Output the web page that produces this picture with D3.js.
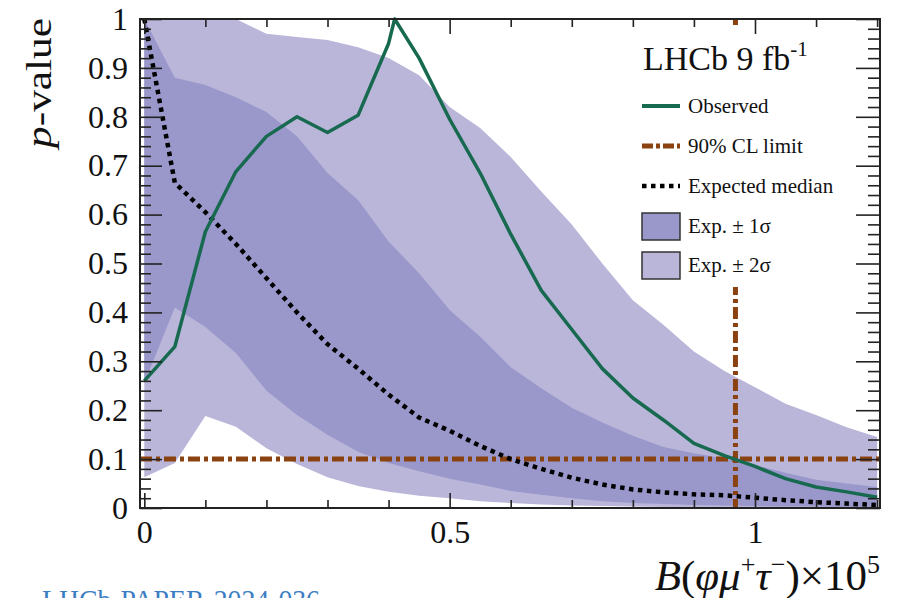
<!DOCTYPE html>
<html>
<head>
<meta charset="utf-8">
<script src="https://cdn.jsdelivr.net/npm/d3@7/dist/d3.min.js"></script>
<style>
  body { margin: 0; background: #fff; }
  svg text { font-family: "Liberation Serif", "DejaVu Serif", serif; fill: #111; }
</style>
</head>
<body>
<svg id="chart" width="902" height="598"></svg>
<script>
// scan points in B x 10^5
const xGrid = [0, 0.05, 0.1, 0.15, 0.2, 0.25, 0.3, 0.35, 0.4, 0.45, 0.5, 0.55, 0.6,
  0.65, 0.7, 0.75, 0.8, 0.85, 0.9, 0.95, 1.0, 1.05, 1.1, 1.15, 1.2];

// expected bands (p-value)
const band2Hi = [1.0, 1.0, 1.0, 1.0, 0.97, 0.963, 0.957, 0.942, 0.92, 0.885, 0.82, 0.777, 0.718,
  0.647, 0.58, 0.5, 0.425, 0.375, 0.32, 0.28, 0.247, 0.213, 0.19, 0.165, 0.145];
const band1Hi = [1.0, 0.88, 0.865, 0.84, 0.81, 0.76, 0.685, 0.63, 0.545, 0.48, 0.405, 0.35, 0.288,
  0.245, 0.205, 0.175, 0.148, 0.125, 0.112, 0.101, 0.088, 0.072, 0.058, 0.05, 0.043];
const band1Lo = [0.255, 0.41, 0.37, 0.317, 0.24, 0.19, 0.15, 0.115, 0.092, 0.075, 0.06, 0.048, 0.035,
  0.027, 0.02, 0.014, 0.01, 0.008, 0.006, 0.005, 0.004, 0.003, 0.003, 0.002, 0.002];
const band2Lo = [0.063, 0.092, 0.188, 0.166, 0.122, 0.09, 0.063, 0.045, 0.033, 0.025, 0.02, 0.014, 0.01,
  0.007, 0.005, 0.004, 0.003, 0.002, 0.002, 0.001, 0.001, 0.001, 0.001, 0.001, 0.001];
const expMedian = [1.0, 0.665, 0.605, 0.54, 0.47, 0.4, 0.335, 0.285, 0.232, 0.185, 0.158, 0.127, 0.1,
  0.08, 0.062, 0.048, 0.038, 0.032, 0.028, 0.026, 0.021, 0.016, 0.012, 0.009, 0.006];

// observed has one extra point near the peak
const obsX = [0, 0.05, 0.1, 0.15, 0.2, 0.25, 0.3, 0.35, 0.4, 0.41, 0.45, 0.5, 0.55, 0.6,
  0.65, 0.7, 0.75, 0.8, 0.85, 0.9, 0.95, 1.0, 1.05, 1.1, 1.15, 1.2];
const obsP = [0.26, 0.33, 0.565, 0.688, 0.76, 0.8, 0.768, 0.803, 0.95, 1.0, 0.92, 0.795, 0.685, 0.56,
  0.445, 0.365, 0.285, 0.225, 0.18, 0.132, 0.107, 0.085, 0.06, 0.043, 0.033, 0.022];

const limitX = 0.968;
const clP = 0.1;

const xMajor = [0, 0.5, 1];
const yMajor = [0, 0.1, 0.2, 0.3, 0.4, 0.5, 0.6, 0.7, 0.8, 0.9, 1];
const legendLabels = ["Observed", "90% CL limit", "Expected median", "Exp. \u00b1 1\u03c3", "Exp. \u00b1 2\u03c3"];

const green = "#17694f", brown = "#8a4210", c1 = "#9a98cb", c2 = "#bab6d9";

const svg = d3.select("#chart");
svg.append("rect").attr("width", 902).attr("height", 598).attr("fill", "#fff");

const x = d3.scaleLinear().domain([-0.00704, 1.2047]).range([140, 880]);
const y = d3.scaleLinear().domain([0, 1]).range([508, 19]);

const bands = xGrid.map((d, i) => ({ x: d, h2: band2Hi[i], l2: band2Lo[i], h1: band1Hi[i], l1: band1Lo[i], m: expMedian[i] }));
const obs = obsX.map((d, i) => ({ x: d, p: obsP[i] }));

// bands
svg.append("path").datum(bands)
  .attr("fill", c2)
  .attr("d", d3.area().x(d => x(d.x)).y0(d => y(d.l2)).y1(d => y(d.h2)));
svg.append("path").datum(bands)
  .attr("fill", c1)
  .attr("d", d3.area().x(d => x(d.x)).y0(d => y(d.l1)).y1(d => y(d.h1)));

// 90% CL lines
const dashDot = "12,4,4,4";
svg.append("line")
  .attr("x1", x.range()[0]).attr("x2", x.range()[1])
  .attr("y1", y(clP)).attr("y2", y(clP))
  .attr("stroke", brown).attr("stroke-width", 5).attr("stroke-dasharray", dashDot);
svg.append("line")
  .attr("x1", x(limitX)).attr("x2", x(limitX))
  .attr("y1", y.range()[1]).attr("y2", y.range()[0])
  .attr("stroke", brown).attr("stroke-width", 5).attr("stroke-dasharray", dashDot);

// expected median
svg.append("path").datum(bands)
  .attr("fill", "none").attr("stroke", "#000").attr("stroke-width", 4.5)
  .attr("stroke-dasharray", "4.5,4.5")
  .attr("d", d3.line().x(d => x(d.x)).y(d => y(d.m)));

// observed
svg.append("path").datum(obs)
  .attr("fill", "none").attr("stroke", green).attr("stroke-width", 3.5)
  .attr("stroke-linejoin", "round")
  .attr("d", d3.line().x(d => x(d.x)).y(d => y(d.p)));

// legend
const lg = svg.append("g");
lg.append("rect").attr("x", 628).attr("y", 25).attr("width", 232).attr("height", 262).attr("fill", "#fff");

const title = lg.append("text").attr("x", 643).attr("y", 70).attr("font-size", 34);
title.append("tspan").text("LHCb 9 fb");
title.append("tspan").attr("dy", -14).attr("font-size", 21).text("-1");

const rowY = [106, 146, 186, 226, 265];
lg.append("line").attr("x1", 642).attr("x2", 680).attr("y1", rowY[0]).attr("y2", rowY[0])
  .attr("stroke", green).attr("stroke-width", 4);
lg.append("line").attr("x1", 642).attr("x2", 680).attr("y1", rowY[1]).attr("y2", rowY[1])
  .attr("stroke", brown).attr("stroke-width", 5).attr("stroke-dasharray", "11,3,4,3");
lg.append("line").attr("x1", 642).attr("x2", 680).attr("y1", rowY[2]).attr("y2", rowY[2])
  .attr("stroke", "#000").attr("stroke-width", 4.5).attr("stroke-dasharray", "4.5,4.5");
[c1, c2].forEach((c, i) => {
  lg.append("rect").attr("x", 642).attr("y", rowY[3 + i] - 13).attr("width", 38).attr("height", 27)
    .attr("fill", c).attr("stroke", "#333").attr("stroke-width", 1.5);
});
lg.selectAll("text.lab").data(legendLabels).enter().append("text")
  .attr("class", "lab")
  .attr("x", 688).attr("y", (d, i) => rowY[i] + 7)
  .attr("font-size", 21)
  .text(d => d);

// axes (inward ticks on all four sides)
const yMinor = d3.range(0, 1.0001, 0.02).filter(v => Math.abs(v * 10 - Math.round(v * 10)) > 1e-6);
const xMinor = d3.range(0.1, 1.21, 0.1).filter(v => Math.abs(v * 2 - Math.round(v * 2)) > 1e-6);
const fmt = d => String(+d.toFixed(1));

function styleAxis(g) {
  g.select(".domain").remove();
  g.selectAll(".tick line").attr("stroke", "#222").attr("stroke-width", 1.6);
  g.selectAll(".tick text").attr("font-size", 32).attr("fill", "#111")
    .attr("font-family", "Liberation Serif, serif");
}

svg.append("g").attr("transform", "translate(140,0)")
  .call(d3.axisLeft(y).tickValues(yMajor).tickSize(-22).tickPadding(12).tickFormat(fmt)).call(styleAxis);
svg.append("g").attr("transform", "translate(140,0)")
  .call(d3.axisLeft(y).tickValues(yMinor).tickSize(-11).tickFormat("")).call(styleAxis);
svg.append("g").attr("transform", "translate(880,0)")
  .call(d3.axisRight(y).tickValues(yMajor).tickSize(-24).tickFormat("")).call(styleAxis);
svg.append("g").attr("transform", "translate(880,0)")
  .call(d3.axisRight(y).tickValues(yMinor).tickSize(-12).tickFormat("")).call(styleAxis);

svg.append("g").attr("transform", "translate(0,508)")
  .call(d3.axisBottom(x).tickValues(xMajor).tickSize(-15).tickPadding(12).tickFormat(fmt)).call(styleAxis);
svg.append("g").attr("transform", "translate(0,508)")
  .call(d3.axisBottom(x).tickValues(xMinor).tickSize(-8).tickFormat("")).call(styleAxis);
svg.append("g").attr("transform", "translate(0,19)")
  .call(d3.axisTop(x).tickValues(xMajor).tickSize(-15).tickFormat("")).call(styleAxis);
svg.append("g").attr("transform", "translate(0,19)")
  .call(d3.axisTop(x).tickValues(xMinor).tickSize(-8).tickFormat("")).call(styleAxis);

// frame
svg.append("rect").attr("x", 140).attr("y", 19).attr("width", 740).attr("height", 489)
  .attr("fill", "none").attr("stroke", "#222").attr("stroke-width", 2);

// axis titles
const yt = svg.append("text")
  .attr("transform", "translate(51,18) rotate(-90)")
  .attr("text-anchor", "end").attr("font-size", 36)
  .attr("textLength", 130).attr("lengthAdjust", "spacingAndGlyphs");
yt.append("tspan").attr("font-style", "italic").text("p");
yt.append("tspan").text("-value");

const xt = svg.append("text").attr("x", 880).attr("y", 590)
  .attr("text-anchor", "end").attr("font-size", 43);
xt.append("tspan").attr("font-style", "italic").text("B");
xt.append("tspan").text("(");
xt.append("tspan").attr("font-style", "italic").text("\u03c6\u03bc");
xt.append("tspan").attr("dy", -17).attr("font-size", 26).text("+");
xt.append("tspan").attr("dy", 17).attr("font-style", "italic").text("\u03c4");
xt.append("tspan").attr("dy", -17).attr("font-size", 26).text("\u2212");
xt.append("tspan").attr("dy", 17).text(")\u00d710");
xt.append("tspan").attr("dy", -17).attr("font-size", 26).text("5");

// cut-off reference line at the very bottom
svg.append("text").attr("x", 42).attr("y", 610)
  .attr("font-family", "Liberation Sans, Arial, sans-serif")
  .attr("font-size", 30).attr("fill", "#3c7ec4").style("fill", "#3c7ec4")
  .attr("textLength", 278).attr("lengthAdjust", "spacingAndGlyphs")
  .text("LHCb-PAPER-2024-036");
</script>
</body>
</html>
